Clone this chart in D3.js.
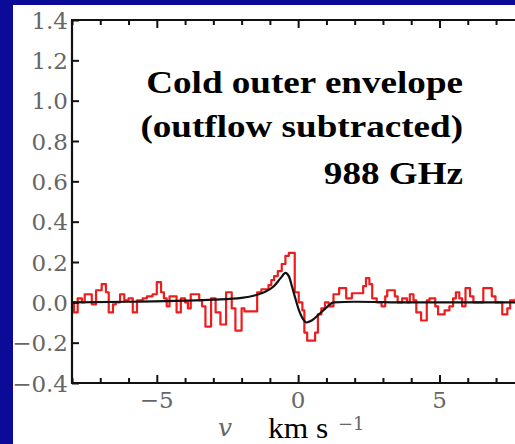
<!DOCTYPE html>
<html><head><meta charset="utf-8">
<script src="https://cdn.jsdelivr.net/npm/d3@7"></script>
<style>html,body{margin:0;padding:0;background:#0b0b98;overflow:hidden}</style>
</head><body>
<svg id="c" width="515" height="444"></svg>
<script>
// Observed spectrum (step histogram): left edge velocity of each channel run and its intensity
const obsVelocity = [-8.00,-7.93,-7.80,-7.65,-7.55,-7.30,-7.15,-6.95,-6.80,-6.70,-6.55,-6.45,-6.30,-6.15,-6.00,-5.85,-5.70,-5.50,-5.35,-5.15,-5.00,-4.85,-4.75,-4.65,-4.55,-4.30,-4.15,-4.00,-3.90,-3.80,-3.50,-3.40,-3.28,-3.08,-2.92,-2.75,-2.55,-2.35,-2.22,-2.00,-1.90,-1.45,-1.30,-1.05,-0.95,-0.85,-0.72,-0.58,-0.45,-0.33,-0.12,0.02,0.15,0.22,0.32,0.60,0.70,0.82,0.95,1.08,1.25,1.45,1.70,1.90,2.30,2.40,2.52,2.62,2.78,2.95,3.08,3.15,3.42,3.52,3.68,3.85,3.95,4.08,4.18,4.35,4.55,4.65,4.85,4.95,5.18,5.35,5.48,5.58,5.70,5.80,5.92,6.08,6.20,6.55,6.85,6.98,7.22,7.40,7.50,7.70,7.85,8.00];
const obsIntensity = [0.00,-0.05,0.02,0.00,0.04,-0.01,0.06,0.09,0.05,-0.05,-0.01,0.00,0.04,0.01,0.02,-0.05,0.01,0.02,0.03,0.04,0.10,0.05,0.02,-0.02,0.03,-0.05,0.02,0.00,-0.03,0.04,0.01,-0.02,-0.12,0.02,-0.05,-0.11,0.05,-0.03,-0.14,-0.03,-0.045,0.05,0.065,0.085,0.11,0.13,0.155,0.19,0.23,0.245,0.05,0.00,-0.04,-0.15,-0.19,-0.15,-0.06,-0.03,0.00,-0.02,0.04,0.07,0.02,0.045,0.08,0.12,0.09,0.02,0.00,-0.02,0.03,0.06,0.03,0.00,0.02,0.00,0.04,0.01,-0.05,-0.09,0.01,0.02,-0.02,-0.06,-0.04,-0.02,0.02,0.05,0.02,-0.02,0.07,0.03,0.00,0.07,0.03,0.00,-0.06,-0.03,0.01,0.02,-0.01,-0.01];
// Model (black curve)
const modelVelocity = [-8,-6,-4,-3,-2,-1.4,-1.2,-0.86,-0.62,-0.45,-0.33,-0.22,-0.09,0.03,0.14,0.30,0.48,0.73,0.97,1.26,2,4,6,8];
const modelIntensity = [0.0,0.003,0.008,0.013,0.022,0.04,0.05,0.08,0.12,0.146,0.13,0.08,0.015,-0.04,-0.075,-0.10,-0.09,-0.06,-0.03,0.0,0.003,0.0,0.0,0.0];
const yTickValues = [-0.4,-0.2,0.0,0.2,0.4,0.6,0.8,1.0,1.2,1.4];
const yTickLabels = ["\u22120.4","\u22120.2","0.0","0.2","0.4","0.6","0.8","1.0","1.2","1.4"];
const xMajorTicks = [-5,0,5];
const xMajorLabels = ["\u22125","0","5"];
const xMinorTicks = [-8,-7,-6,-4,-3,-2,-1,1,2,3,4,6,7,8];
const titleLines = ["Cold outer envelope","(outflow subtracted)","988 GHz"];

const svg = d3.select("#c");
svg.append("rect").attr("x",13).attr("y",5).attr("width",502).attr("height",439).attr("fill","#ffffff");

const x = d3.scaleLinear().domain([-8,8]).range([72,524.3]);
const y = d3.scaleLinear().domain([-0.4,1.4]).range([383,20]);

// data lines
const obs = obsVelocity.map((v,i)=>({v, f: obsIntensity[i]}));
const mod = modelVelocity.map((v,i)=>({v, f: modelIntensity[i]}));
svg.append("path").datum(obs)
  .attr("d", d3.line().x(d=>x(d.v)).y(d=>y(d.f)).curve(d3.curveStepAfter))
  .attr("fill","none").attr("stroke","#ee1c1c").attr("stroke-width",2.2).attr("stroke-linejoin","round");
svg.append("path").datum(mod)
  .attr("d", d3.line().x(d=>x(d.v)).y(d=>y(d.f)).curve(d3.curveMonotoneX))
  .attr("fill","none").attr("stroke","#111").attr("stroke-width",2.2);

// axes (ticks inward)
const ink = "#111";
const gL = svg.append("g").attr("transform","translate(72,0)")
  .call(d3.axisRight(y).tickValues(yTickValues).tickSize(7).tickFormat(""));
const gB = svg.append("g").attr("transform","translate(0,383)")
  .call(d3.axisTop(x).tickValues(xMajorTicks).tickSize(8).tickFormat(""));
const gBm = svg.append("g").attr("transform","translate(0,383)")
  .call(d3.axisTop(x).tickValues(xMinorTicks).tickSize(5).tickFormat(""));
const gT = svg.append("g").attr("transform","translate(0,20)")
  .call(d3.axisBottom(x).tickValues(xMajorTicks).tickSize(8).tickFormat(""));
const gTm = svg.append("g").attr("transform","translate(0,20)")
  .call(d3.axisBottom(x).tickValues(xMinorTicks).tickSize(5).tickFormat(""));
[gL,gB,gBm,gT,gTm].forEach(g=>{
  g.selectAll(".domain").remove();
  g.selectAll(".tick line").attr("stroke",ink).attr("stroke-width",2);
});
// spines
svg.append("line").attr("x1",72).attr("x2",72).attr("y1",y(1.4)).attr("y2",y(-0.4)).attr("stroke",ink).attr("stroke-width",2.2);
svg.append("line").attr("x1",71).attr("x2",x(8)).attr("y1",y(-0.4)).attr("y2",y(-0.4)).attr("stroke",ink).attr("stroke-width",2.2);
svg.append("line").attr("x1",71).attr("x2",x(8)).attr("y1",y(1.4)).attr("y2",y(1.4)).attr("stroke",ink).attr("stroke-width",2.2);

// tick labels
const lab = "#666";
svg.append("g").selectAll("text").data(yTickValues).join("text")
  .attr("x",68).attr("y",d=>y(d)+8.5).attr("text-anchor","end")
  .attr("font-family","DejaVu Serif").attr("font-size",23).attr("fill",lab)
  .text((d,i)=>yTickLabels[i]);
svg.append("g").selectAll("text").data(xMajorTicks).join("text")
  .attr("x",d=>x(d)).attr("y",408).attr("text-anchor","middle")
  .attr("font-family","DejaVu Serif").attr("font-size",23).attr("fill",lab)
  .text((d,i)=>xMajorLabels[i]);

// axis label
svg.append("text").attr("x",218).attr("y",436).attr("font-family","DejaVu Serif").attr("font-style","italic")
  .attr("font-size",25).attr("fill",lab).text("v");
svg.append("text").attr("transform","translate(268,438) scale(1.05,1)").attr("font-family","Liberation Serif")
  .attr("font-size",30).attr("fill","#000").text("km s");
svg.append("text").attr("x",338).attr("y",430).attr("font-family","DejaVu Serif")
  .attr("font-size",18).attr("fill",lab).text("\u22121");

// title (right-aligned block, horizontally stretched like the reference)
const tl = [{t:titleLines[0], y:93},{t:titleLines[1], y:137},{t:titleLines[2], y:184}];
svg.append("g").selectAll("text").data(tl).join("text")
  .attr("transform",d=>`translate(463,${d.y}) scale(1.16,1)`)
  .attr("text-anchor","end")
  .attr("font-family","Liberation Serif").attr("font-weight","bold").attr("font-size",32).attr("fill","#000")
  .text(d=>d.t);
</script>
</body></html>
